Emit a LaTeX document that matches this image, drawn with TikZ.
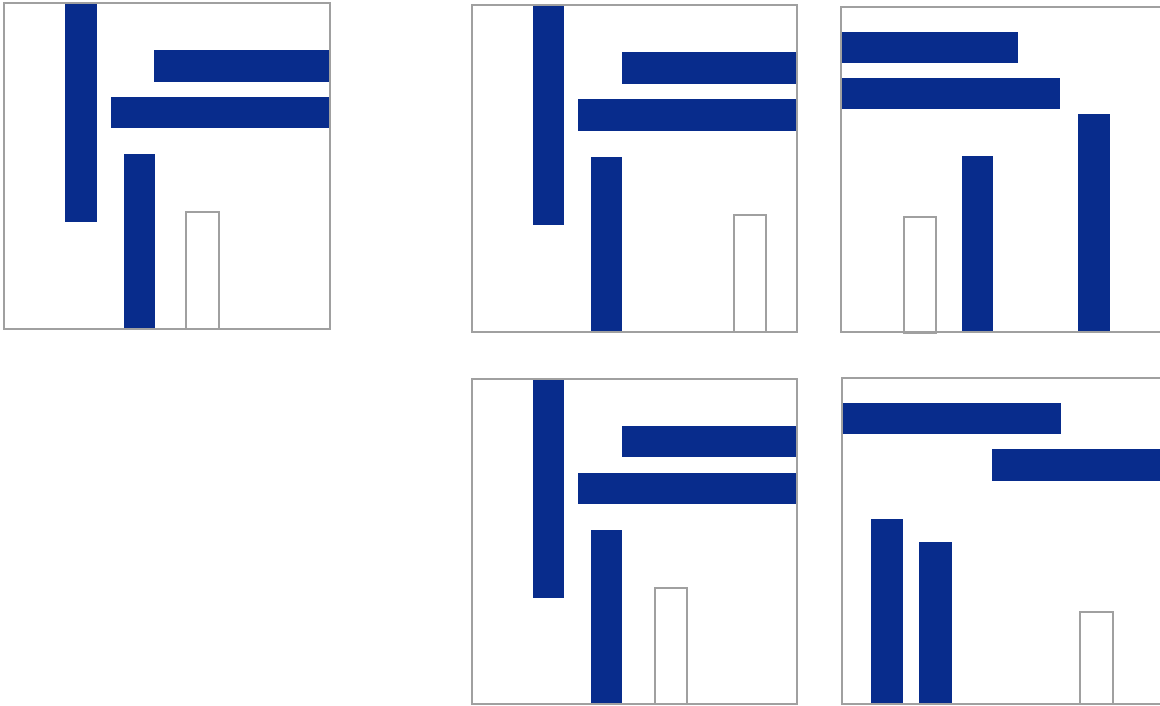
\documentclass[tikz,border=0pt]{standalone}
\definecolor{barblue}{RGB}{8,44,140}
\definecolor{framegray}{RGB}{160,160,160}
\tikzset{
  panel/.style={draw=framegray, line width=0.9pt, fill=white},
  bar/.style={fill=barblue, draw=none},
  hollow/.style={draw=framegray, line width=0.9pt, fill=white}
}
\begin{document}
\begin{tikzpicture}[x=0.02cm, y=-0.02cm]
\useasboundingbox (0,0) rectangle (1160,706);
\clip (0,0) rectangle (1160,706);
\fill[white] (0,0) rectangle (1160,706);
% Panel 1
\draw[panel] (4,3) rectangle (330,329);
\fill[bar] (65,3) rectangle (97,222);
\fill[bar] (154,50) rectangle (330,82);
\fill[bar] (111,97) rectangle (330,128);
\fill[bar] (124,154) rectangle (155,329);
\draw[hollow] (186,212) rectangle (219,329);
\draw[framegray, line width=0.9pt] (4,3) rectangle (330,329);
% Panel 2
\draw[panel] (472,5) rectangle (797,332);
\fill[bar] (533,5) rectangle (564,225);
\fill[bar] (622,52) rectangle (797,84);
\fill[bar] (578,99) rectangle (797,131);
\fill[bar] (591,157) rectangle (622,332);
\draw[hollow] (734,215) rectangle (766,332);
\draw[framegray, line width=0.9pt] (472,5) rectangle (797,332);
% Panel 3
\draw[panel] (841,7) rectangle (1167,332);
\fill[bar] (841,32) rectangle (1018,63);
\fill[bar] (841,78) rectangle (1060,109);
\fill[bar] (1078,114) rectangle (1110,332);
\fill[bar] (962,156) rectangle (993,332);
\draw[hollow] (904,217) rectangle (936,333);
\draw[framegray, line width=0.9pt] (841,7) rectangle (1167,332);
% Panel 4
\draw[panel] (472,379) rectangle (797,704);
\fill[bar] (533,379) rectangle (564,598);
\fill[bar] (622,426) rectangle (797,457);
\fill[bar] (578,473) rectangle (797,504);
\fill[bar] (591,530) rectangle (622,704);
\draw[hollow] (655,588) rectangle (687,704);
\draw[framegray, line width=0.9pt] (472,379) rectangle (797,704);
% Panel 5
\draw[panel] (842,378) rectangle (1168,704);
\fill[bar] (842,403) rectangle (1061,434);
\fill[bar] (992,449) rectangle (1168,481);
\fill[bar] (871,519) rectangle (903,704);
\fill[bar] (919,542) rectangle (952,704);
\draw[hollow] (1080,612) rectangle (1113,704);
\draw[framegray, line width=0.9pt] (842,378) rectangle (1168,704);
\end{tikzpicture}
\end{document}
